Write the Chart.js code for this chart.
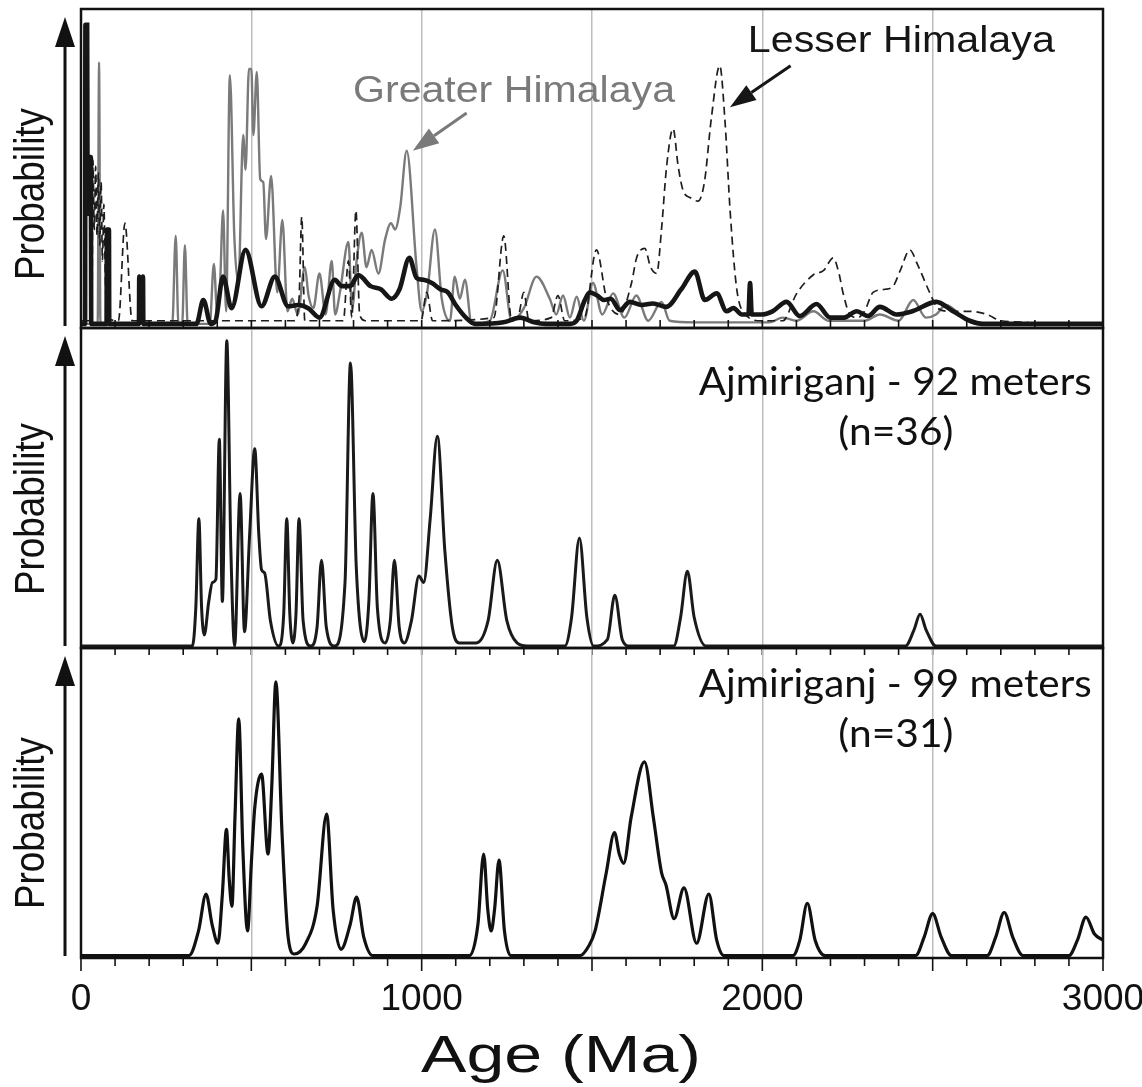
<!DOCTYPE html>
<html lang="en">
<head>
  <meta charset="UTF-8">
  <title>Ajmiriganj detrital zircon ages</title>
  <script src="https://cdn.jsdelivr.net/npm/chart.js"></script>
  <style>
    html, body { margin: 0; padding: 0; background: #fff; overflow: hidden; }
    .stage { position: relative; width: 1142px; height: 1087px; }
    .stage canvas { position: absolute; left: 0; top: 0; }
  </style>
</head>
<body>
<div class="stage">
  <canvas id="chart-source" width="1142" height="1087"></canvas>
  <canvas id="chart-92" width="1142" height="1087"></canvas>
  <canvas id="chart-99" width="1142" height="1087"></canvas>
</div>

<script>
// x axis labels (Ma)
const ageLabels = [0, 1000, 2000, 3000];

// top panel: [age Ma, relative probability %]
const greaterHimalaya = [
  [0,0],[49,0],[53,83],[57,0],[268,0],[278,28],[286,0],[297,0],[305,25],[313,0],
  [378,0],[390,19],[400,3],[408,12],[417,36],[426,4],[437,79],[450,28],[462,13],[476,60],
  [483,49],[493,81],[500,81],[506,60],[516,80],[526,46],[535,45],[543,27],[558,47],[576,10],
  [591,33],[606,4],[620,8],[636,3],[657,18],[668,9],[682,5],[700,16],[718,3],[736,20],
  [746,3],[760,10],[785,26],[796,5],[810,21],[824,29],[838,18],[853,23.5],[873,16],[893,27],
  [910,32],[922,30],[937,37],[956,55],[985,18],[1000,4],[1016,10],[1039,30],[1059,8],[1083,1],
  [1097,15],[1112,8],[1127,14],[1147,0],[1200,1],[1238,17],[1264,1],[1300,5],[1337,15],[1376,8],
  [1395,3],[1415,9],[1435,2],[1455,8.6],[1476,1],[1503,13],[1530,3],[1562,9.7],[1595,2],[1630,9],
  [1665,1],[1704,7],[1728,1],[1800,0.5],[2020,0.5],[2060,2],[2100,1],[2150,4],[2195,1],[2300,1],
  [2345,3],[2400,1],[2443,7.6],[2480,2],[2510,3],[2539,6],[2600,1],[2640,0],[3000,0]
];
const lesserHimalaya = [
  [0,1],[32,1],[35,52],[39,30],[43,50],[47,28],[51,48],[55,25],[59,45],[63,20],
  [67,38],[72,12],[78,2],[110,1],[129,32],[150,1],[625,1],[640,8],[648,34],[657,1],
  [770,1],[785,20],[795,2],[807,36],[818,3],[835,1],[998,1],[1015,10],[1032,1],[1212,2],
  [1241,28],[1264,1],[1285,3],[1300,10],[1315,1],[1380,2],[1400,9],[1420,1],[1478,2],[1513,23.5],
  [1543,8],[1582,3],[1616,13],[1631,21],[1655,24],[1672,18],[1690,16],[1704,30],[1719,50],[1738,62],
  [1753,50],[1767,42.5],[1790,40],[1811,39],[1830,45],[1850,65],[1875,82],[1890,65],[1906,35],[1925,11],
  [1950,3],[1997,1],[2060,1],[2101,9.7],[2150,15.6],[2180,17],[2208,21],[2225,16],[2237,9.8],[2257,3],
  [2280,2],[2300,4],[2325,10],[2360,11],[2384,12],[2405,17],[2433,23.5],[2455,19],[2491,10],[2515,5],
  [2550,4],[2609,4],[2660,3],[2700,1],[2780,0.5]
];
const sourceBlend = [
  [0,0],[12,0],[13,95],[15,70],[16,95],[18,95],[19,53],[21,35],[23,53],[25,35],
  [27,53],[29,53],[30,0],[75,0],[76,30],[79,22],[82,30],[83,0],[170,0],[171,15],
  [176,10],[182,15],[183,0],[339,0],[359,7.6],[381,0],[395,1],[417,15],
  [442,5],[483,23.5],[530,5.6],[569,15],[608,5.6],[637,6],[667,5],[700,2],[745,14],[765,12],
  [790,12],[814,15.5],[850,12],[880,11],[912,8],[935,11],[964,21],[985,14.6],[1005,14],[1030,13],
  [1055,11],[1077,10],[1100,6],[1130,2],[1157,0],[1240,0.5],[1289,2],[1330,0.5],[1365,0],[1435,0],
  [1455,1],[1479,7.6],[1494,10],[1515,9],[1535,7.6],[1555,8],[1582,4.4],[1611,7],[1645,6],[1679,6.5],
  [1718,5.4],[1762,11],[1802,16.6],[1831,7.6],[1866,9.7],[1895,4],[1915,5],[1940,3],[1959,3],[1964,13],
  [1969,3],[1997,3],[2030,4],[2071,7],[2110,2.5],[2159,6.3],[2199,2],[2240,2],[2277,4],[2310,2.5],
  [2345,5.4],[2394,3],[2440,4],[2511,7],[2560,4],[2609,1],[2648,0],[3000,0]
];

// Ajmiriganj - 92 meters (n=36)
const ajmiriganj92 = [
  [0,0],[327,0],[337,12],[346,40],[354,12],[362,3.5],[375,14],[386,20],[396,21],[406,65],
  [415,14],[428,96],[440,30],[451,0],[467,48],[480,4.5],[495,35],[510,62],[522,35],[530,24],
  [539,23],[556,8],[580,0],[595,10],[604,40],[613,10],[622,1],[631,10],[640,40],[652,8],
  [674,0],[693,6],[706,27],[720,6],[744,0],[775,20],[791,89],[808,25],[832,1.4],[845,14],
  [857,48],[870,12],[893,1],[908,8],[920,27],[934,6],[949,1],[970,8],[992,22],[1006,20],
  [1025,40],[1046,66],[1068,30],[1090,6],[1110,1],[1160,1],[1195,8],[1222,27],[1250,8],[1280,1],
  [1310,0],[1420,0],[1440,9],[1463,34],[1485,9],[1505,0],[1545,2],[1567,16],[1589,2],[1610,0],
  [1740,0],[1760,9],[1780,23.5],[1800,9],[1835,0],[2420,0],[2445,5],[2463,10],[2481,5],[2510,0],
  [3000,0]
];

// Ajmiriganj - 99 meters (n=31)
const ajmiriganj99 = [
  [0,0],[317,0],[345,8],[367,20],[385,10],[402,4],[415,20],[427,41],[435,25],[443,16],
  [452,45],[463,77],[475,35],[489,8],[500,30],[510,48],[530,59],[549,33],[560,55],[572,89],
  [590,40],[608,6],[626,0.5],[660,4],[693,16],[721,46],[740,15],[763,2],[790,10],[809,19],
  [830,6],[856,0],[1140,0],[1165,10],[1182,33],[1194,15],[1204,8],[1214,15],[1227,31],[1243,8],
  [1261,0],[1465,0],[1490,3],[1509,8],[1542,27],[1566,40],[1580,33],[1593,30],[1615,45],[1654,63],
  [1680,45],[1704,27],[1717,23],[1741,12],[1770,22],[1807,4],[1843,20],[1866,5],[1887,0],[2090,0],
  [2110,5],[2132,17],[2155,5],[2184,0],[2450,0],[2475,6],[2500,13.6],[2525,6],[2555,0],[2660,0],
  [2685,6],[2710,14],[2735,6],[2765,0],[2900,0],[2925,5],[2950,12.5],[2975,7],[3000,5]
];

const SANS = "'Liberation Sans', Arial, sans-serif";
const GILL = "Lato, 'Open Sans', sans-serif";
const PAGE_H = 1087;

function series(pairs, style) {
  return Object.assign({
    data: pairs.map(([x, y]) => ({ x, y })),
    pointRadius: 0,
    fill: false,
    cubicInterpolationMode: 'monotone'
  }, style);
}

function drawLabel(ctx, item, px, py) {
  ctx.save();
  ctx.font = item.font;
  ctx.fillStyle = item.color || '#111';
  ctx.textAlign = item.align || 'center';
  ctx.textBaseline = 'alphabetic';
  const natural = ctx.measureText(item.text).width;
  const sx = item.width ? item.width / natural : 1;
  ctx.translate(px, py);
  if (item.rotate) ctx.rotate(item.rotate);
  ctx.scale(sx, 1);
  ctx.fillText(item.text, 0, 0);
  ctx.restore();
}

function drawPointer(ctx, x0, y0, x1, y1, color, head, half, lw) {
  const ang = Math.atan2(y1 - y0, x1 - x0);
  const bx = x1 - head * Math.cos(ang), by = y1 - head * Math.sin(ang);
  ctx.strokeStyle = color;
  ctx.fillStyle = color;
  ctx.lineWidth = lw;
  ctx.beginPath();
  ctx.moveTo(x0, y0);
  ctx.lineTo(bx, by);
  ctx.stroke();
  ctx.beginPath();
  ctx.moveTo(x1, y1);
  ctx.lineTo(bx + half * Math.sin(ang), by - half * Math.cos(ang));
  ctx.lineTo(bx - half * Math.sin(ang), by + half * Math.cos(ang));
  ctx.closePath();
  ctx.fill();
}

// per-panel extras, looked up by canvas id
const decorConfig = {};

// frame, inner ticks, probability arrow, labels
const decor = {
  id: 'decor',
  afterDraw(chart) {
    const o = decorConfig[chart.canvas.id];
    if (!o) return;
    const { ctx, chartArea: a, scales: { x, y } } = chart;
    ctx.save();
    ctx.strokeStyle = '#111';
    ctx.lineWidth = 2.5;
    ctx.strokeRect(a.left, a.top, a.right - a.left, a.bottom - a.top);

    ctx.lineWidth = 1.6;
    x.ticks.forEach(t => {
      const major = t.value % 500 === 0;
      const edge = t.value === 0 || t.value === 3000;
      if (edge && !o.edgeTicks) return;
      const len = major ? o.majorLen : o.minorLen;
      const px = x.getPixelForValue(t.value);
      ctx.beginPath();
      ctx.moveTo(px, a.bottom);
      ctx.lineTo(px, a.bottom + o.tickDir * len);
      ctx.stroke();
    });

    drawPointer(ctx, 65, a.bottom - 2, 65, a.top + 8, '#111', 30, 10, 3);
    drawLabel(ctx, { text: 'Probability', font: '42px ' + SANS, width: 172, rotate: -Math.PI / 2 }, 44, o.probY);

    (o.pointers || []).forEach(p => {
      drawPointer(ctx, x.getPixelForValue(p.from[0]), y.getPixelForValue(p.from[1]),
        x.getPixelForValue(p.to[0]), y.getPixelForValue(p.to[1]), p.color, 26, 9, 3);
    });
    (o.texts || []).forEach(t => {
      const px = t.at ? x.getPixelForValue(t.at[0]) : t.px;
      const py = t.at ? y.getPixelForValue(t.at[1]) : t.py;
      drawLabel(ctx, t, px, py);
    });
    ctx.restore();
  }
};

function panel(id, datasets, top, bottom, yMin, extras, showLabels) {
  decorConfig[id] = extras;
  const axisH = showLabels ? PAGE_H - bottom : 0;
  return new Chart(document.getElementById(id), {
    type: 'line',
    data: { datasets },
    plugins: [decor],
    options: {
      responsive: false,
      animation: false,
      events: [],
      layout: { padding: { left: 81, right: 39, top: top, bottom: PAGE_H - bottom - axisH } },
      scales: {
        x: {
          type: 'linear', min: 0, max: 3000,
          afterFit: s => { s.height = axisH; s.paddingLeft = 0; s.paddingRight = 0; },
          border: { display: false },
          grid: {
            drawTicks: false,
            lineWidth: 1.5,
            color: c => (c.tick && c.tick.value % 500 === 0 && c.tick.value > 0 && c.tick.value < 3000)
              ? '#bdbdbd' : 'rgba(0,0,0,0)'
          },
          ticks: {
            display: showLabels,
            stepSize: 100,
            autoSkip: false,
            maxRotation: 0,
            padding: 20,
            color: '#111',
            font: { family: SANS, size: 37 },
            callback: v => ageLabels.includes(v) ? String(v) : ''
          }
        },
        y: { display: false, min: yMin, max: 100 }
      },
      plugins: {
        legend: { display: false },
        tooltip: { enabled: false }
      }
    }
  });
}

panel('chart-source', [
  series(sourceBlend, { borderColor: '#161616', borderWidth: 4.6 }),
  series(lesserHimalaya, { borderColor: '#1e1e1e', borderWidth: 1.7, borderDash: [8, 5] }),
  series(greaterHimalaya, { borderColor: '#7a7a7a', borderWidth: 2.4 })
], 9, 328, -1.3, {
  tickDir: -1, minorLen: 8, majorLen: 8, probY: 194,
  pointers: [
    { from: [1132, 67], to: [974, 55], color: '#7a7a7a' },
    { from: [2083, 82], to: [1905, 68.8], color: '#161616' }
  ],
  texts: [
    { text: 'Greater Himalaya', at: [1271, 70.6], font: '37px ' + SANS, width: 322, color: '#7a7a7a' },
    { text: 'Lesser Himalaya', at: [2408, 86.3], font: '37px ' + SANS, width: 307, color: '#161616' }
  ]
}, false);

panel('chart-92', [
  series(ajmiriganj92, { borderColor: '#1a1a1a', borderWidth: 3 })
], 328, 648, -0.6, {
  tickDir: 1, minorLen: 7, majorLen: 7, probY: 509,
  texts: [
    { text: 'Ajmiriganj - 92 meters', at: [2967, 78.9], align: 'right', font: '39px ' + GILL, width: 393 },
    { text: '(n=36)', at: [2392, 63.2], font: '39px ' + GILL, width: 115 }
  ]
}, false);

panel('chart-99', [
  series(ajmiriganj99, { borderColor: '#111', borderWidth: 3.2 })
], 648, 958, -0.8, {
  tickDir: 1, minorLen: 8, majorLen: 13, edgeTicks: true, probY: 823,
  texts: [
    { text: 'Ajmiriganj - 99 meters', at: [2967, 84.1], align: 'right', font: '39px ' + GILL, width: 393 },
    { text: '(n=31)', at: [2392, 67.8], font: '39px ' + GILL, width: 115 },
    { text: 'Age (Ma)', px: 561, py: 1072, font: '52px ' + SANS, width: 280 }
  ]
}, true);
</script>
</body>
</html>
